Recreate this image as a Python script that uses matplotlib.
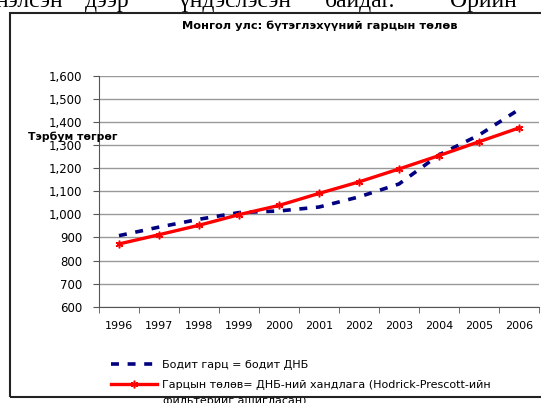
import numpy as np
import matplotlib.pyplot as plt
from matplotlib.patches import Rectangle

years = ['1996', '1997', '1998', '1999', '2000', '2001',
         '2002', '2003', '2004', '2005', '2006']
# real output (real GDP), billion togrog
real_gdp = [908, 945, 979, 1008, 1015, 1032, 1076, 1132, 1258, 1344, 1455]
# HP-filter trend (potential output)
hp_trend = [872, 912, 953, 999, 1039, 1091, 1141, 1197, 1255, 1315, 1375]

yticks = [600, 700, 800, 900, 1000, 1100, 1200, 1300, 1400, 1500, 1600]

fig = plt.figure(figsize=(5.41, 4.03), dpi=100)
ax = fig.add_axes([99 / 541, 1 - 306.7 / 403, 440 / 541, (306.7 - 76) / 403])

x = np.arange(len(years))
l1, = ax.plot(x, real_gdp, color='#000080', lw=2.6, ls=(0, (2.2, 2.4)),
              label='Бодит гарц = бодит ДНБ')
l2, = ax.plot(x, hp_trend, color='#FF0000', lw=2.4, marker=(6, 2, 0), ms=5.5,
              mew=1.1, label='Гарцын төлөв= ДНБ-ний хандлага (Hodrick-Prescott-ийн')

ax.set_xlim(-0.5, len(years) - 0.5)
ax.set_ylim(600, 1600)
ax.set_yticks(yticks)
ax.set_yticklabels([f'{v:,}' for v in yticks])
ax.set_xticks(x)
ax.set_xticklabels(years)
ax.set_xticks(np.arange(-0.5, len(years), 1), minor=True)
ax.tick_params(axis='x', which='major', length=0, pad=10, labelsize=8)
ax.tick_params(axis='x', which='minor', length=4, direction='out', color='#555555')
ax.tick_params(axis='y', length=4, direction='out', color='#555555', labelsize=8.5, pad=8)
ax.grid(axis='y', color='#999999', lw=1)
ax.set_axisbelow(True)
for s in ['top', 'right']:
    ax.spines[s].set_visible(False)
ax.spines['left'].set_color('#555555')
ax.spines['bottom'].set_color('#555555')

fig.text(320 / 541, 1 - 26 / 403, 'Монгол улс: бүтэглэхүүний гарцын төлөв',
         ha='center', va='center', fontsize=8.2, fontweight='bold')
fig.text(28 / 541, 1 - 137 / 403, 'Тэрбум төгрөг', ha='left', va='center',
         fontsize=7.8, fontweight='bold')

fig.legend(handles=[l1, l2], loc='upper left', bbox_to_anchor=(111 / 541, 1 - 360 / 403),
           frameon=False, fontsize=8, handlelength=4.1, handletextpad=0.45,
           labelspacing=0.85, borderaxespad=0, borderpad=0)
# wrapped continuation of the second legend label
fig.text(163 / 541, 1 - 401 / 403, 'фильтерийг ашигласан)', ha='left', va='center',
         fontsize=8)

# outer chart frame and the cut-off document text above it
fig.add_artist(Rectangle((10 / 541, 1 - 397 / 403), 0.99, (397 - 12.5) / 403,
                         transform=fig.transFigure, fill=False, ec='#222222', lw=1.5,
                         zorder=5))
for word, wx in [('нэлсэн', -4), ('дээр', 85), ('үндэслэсэн', 178),
                 ('байдаг.', 325), ('Өрийн', 450)]:
    fig.text(wx / 541, 1 - 7 / 403, word, family='Liberation Serif', fontsize=17,
             ha='left', va='baseline')

fig.savefig('out.png', dpi=100)
